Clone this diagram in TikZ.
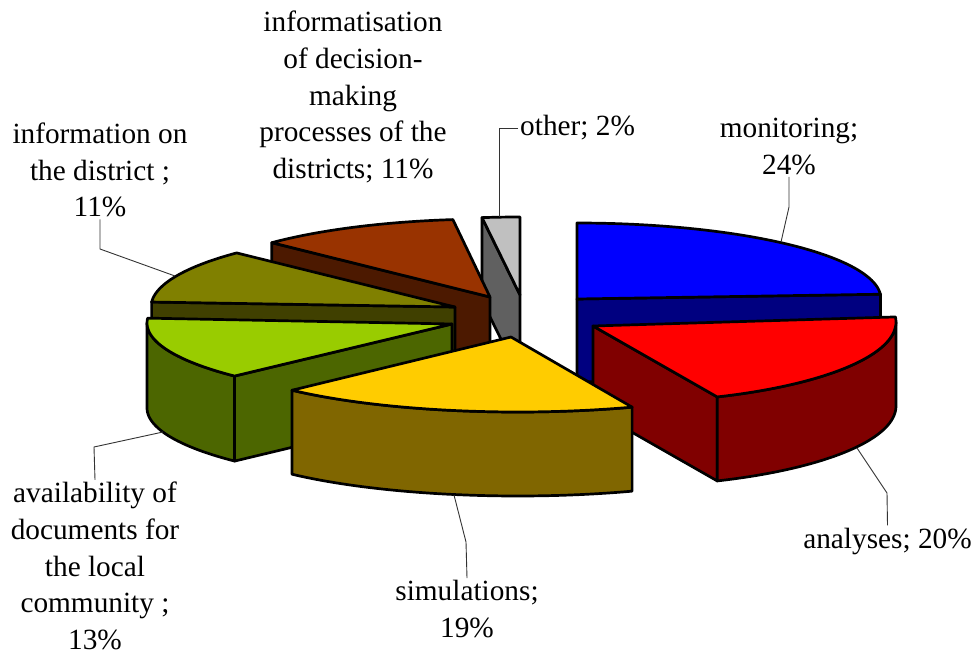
\documentclass[tikz,border=0pt]{standalone}
\usepackage{fontspec}
\setmainfont{Liberation Serif}
\usepackage{tikz}
\usetikzlibrary{calc}
\definecolor{monTop}{HTML}{0000FF}
\definecolor{monSide}{HTML}{000080}
\definecolor{anaTop}{HTML}{FF0000}
\definecolor{anaSide}{HTML}{800000}
\definecolor{simTop}{HTML}{FFCC00}
\definecolor{simSide}{HTML}{806600}
\definecolor{avaTop}{HTML}{99CC00}
\definecolor{avaSide}{HTML}{4C6600}
\definecolor{distTop}{HTML}{808000}
\definecolor{distSide}{HTML}{404000}
\definecolor{infTop}{HTML}{993300}
\definecolor{infSide}{HTML}{4C1900}
\definecolor{othTop}{HTML}{C0C0C0}
\definecolor{othSide}{HTML}{606060}
\tikzset{
  slice/.style={draw=black, line width=2.7pt, line join=round},
  leader/.style={draw=black!80, line width=0.9pt},
  lbl/.style={font=\fontsize{29.3}{36.7}\selectfont, align=center, inner sep=2pt}
}

\begin{document}
\begin{tikzpicture}[x=1pt, y=-1pt]
  \useasboundingbox (0,0) rectangle (976,652);

  % other
  \filldraw[slice, fill=othSide] (482.0,217.6) -- (520,295) -- (520,378) -- (482.0,300.6) -- cycle;
  \filldraw[slice, fill=othTop] (520,295) -- plot[domain=90:97.2, samples=10] ({520+303*cos(\x)},{295-78*sin(\x)}) -- cycle;

  % monitoring
  \filldraw[slice, fill=monSide] (577,299) -- (880.4,294.2) -- (880.4,377.2) -- (577,382) -- cycle;
  \filldraw[slice, fill=monTop] (577,299) -- plot[domain=90:3.6, samples=50] ({577+304*cos(\x)},{299-76*sin(\x)}) -- cycle;

  % informatisation
  \filldraw[slice, fill=infSide] (271.8,242.7) -- (490,297) -- (490,381) -- (271.8,326.7) -- cycle;
  \filldraw[slice, fill=infTop] (490,297) -- plot[domain=97.2:136.8, samples=30] ({490.5+300*cos(\x)},{294-75*sin(\x)}) -- cycle;

  % information on the district
  \filldraw[slice, fill=distSide] (151.6,302) -- (455,307) -- (455,391) -- (151.6,386) -- cycle;
  \filldraw[slice, fill=distTop] (455,307) -- plot[domain=136.8:176.4, samples=30] ({467+316*cos(\x)},{307-79*sin(\x)}) -- cycle;

  % availability
  \filldraw[slice, fill=avaSide] plot[domain=180:223.2, samples=30] ({470+323*cos(\x)},{323-77.5*sin(\x)})
    -- plot[domain=223.2:180, samples=30] ({470+323*cos(\x)},{408-77.5*sin(\x)}) -- cycle;
  \filldraw[slice, fill=avaSide] (234.5,376.1) -- (452,324) -- (452,409) -- (234.5,461.1) -- cycle;
  \filldraw[slice, fill=avaTop] (452,324) -- plot[domain=176.4:223.2, samples=30] ({470+323*cos(\x)},{323-77.5*sin(\x)}) -- cycle;

  % analyses
  \filldraw[slice, fill=anaSide] (593,326) -- (717.2,396.9) -- (717.2,480.9) -- (593,410) -- cycle;
  \filldraw[slice, fill=anaSide] plot[domain=-68.4:0, samples=40] ({613+283*cos(\x)},{322-80.6*sin(\x)})
    -- plot[domain=0:-68.4, samples=40] ({613+283*cos(\x)},{406-80.6*sin(\x)}) -- cycle;
  \filldraw[slice, fill=anaTop] (593,326) -- plot[domain=3.6:-68.4, samples=40] ({613+283*cos(\x)},{322-80.6*sin(\x)}) -- cycle;

  % simulations
  \filldraw[slice, fill=simSide] plot[domain=-136.8:-68.4, samples=40] ({518+310*cos(\x)},{343-69*sin(\x)})
    -- plot[domain=-68.4:-136.8, samples=40] ({518+310*cos(\x)},{427-69*sin(\x)}) -- cycle;
  \filldraw[slice, fill=simTop] (511,337) -- plot[domain=-68.4:-136.8, samples=40] ({518+310*cos(\x)},{343-69*sin(\x)}) -- cycle;

  % labels
  \node[lbl] (infLbl) at (353,97) {informatisation\\of decision-\\making\\processes of the\\districts; 11\%};
  \node[lbl] (distLbl) at (100,170) {information on\\the district ;\\11\%};
  \node[lbl, anchor=west] (othLbl) at (518,128) {other; 2\%};
  \node[lbl] (monLbl) at (789,146.5) {monitoring;\\24\%};
  \node[lbl] (anaLbl) at (887.5,541) {analyses; 20\%};
  \node[lbl] (simLbl) at (467,609) {simulations;\\19\%};
  \node[lbl] (avaLbl) at (95,566) {availability of\\documents for\\the local\\community ;\\13\%};

  % leader lines
  \coordinate (othTip) at (499,217);
  \coordinate (monTip) at (781,242);
  \coordinate (anaTip) at (857,448);
  \coordinate (simTip) at (454,495);
  \coordinate (avaTip) at (163,432);
  \coordinate (distTip) at (175,276);
  \draw[leader] (othLbl.west) -| (othTip);
  \draw[leader] (monLbl.south) -- (789,207) -- (monTip);
  \draw[leader] (anaLbl.north) -- (887,493) -- (anaTip);
  \draw[leader] (simLbl.north) -- (466,542) -- (simTip);
  \draw[leader] (avaLbl.north) -- (94,447) -- (avaTip);
  \draw[leader] (distLbl.south) -- (100,249) -- (distTip);
\end{tikzpicture}
\end{document}
